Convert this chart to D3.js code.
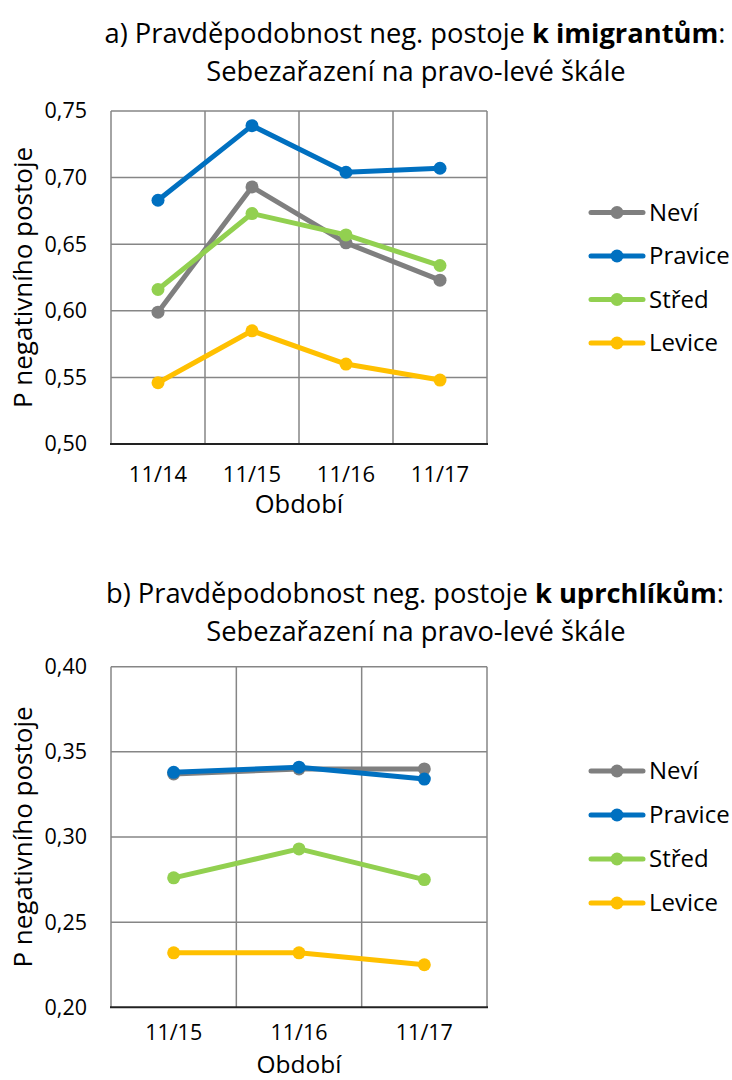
<!DOCTYPE html>
<html>
<head>
<meta charset="utf-8">
<script src="https://cdn.jsdelivr.net/npm/d3@7"></script>
<style>
  html, body { margin: 0; padding: 0; background: #fff; }
  svg { display: block; font-family: "Open Sans", sans-serif; }
</style>
</head>
<body>
<div id="chart"></div>
<script>
// legend / series
const seriesNames = ['Neví', 'Pravice', 'Střed', 'Levice'];
const seriesColors = ['#7f7f7f', '#0070c0', '#92d050', '#ffc000'];

// a) k imigrantům
const periodsA = ['11/14', '11/15', '11/16', '11/17'];
const neviA = [0.599, 0.693, 0.651, 0.623];
const pravA = [0.683, 0.739, 0.704, 0.707];
const stredA = [0.616, 0.673, 0.657, 0.634];
const levA = [0.546, 0.585, 0.560, 0.548];
const ticksA = [0.50, 0.55, 0.60, 0.65, 0.70, 0.75];

// b) k uprchlíkům
const periodsB = ['11/15', '11/16', '11/17'];
const neviB = [0.337, 0.340, 0.340];
const pravB = [0.338, 0.341, 0.334];
const stredB = [0.276, 0.293, 0.275];
const levB = [0.232, 0.232, 0.225];
const ticksB = [0.20, 0.25, 0.30, 0.35, 0.40];

const W = 732, H = 1080;
const svg = d3.select('#chart').append('svg').attr('width', W).attr('height', H);

const fmt = v => d3.format('.2f')(v).replace('.', ',');

function drawPanel(cfg) {
  const { top, plot, periods, series, ticks, titleLead, titleBold } = cfg;
  const g = svg.append('g').attr('transform', `translate(0,${top})`);

  // titulek
  const t1 = g.append('text')
    .attr('x', 415).attr('y', 43)
    .attr('text-anchor', 'middle')
    .attr('font-size', 27.3).attr('fill', '#000');
  t1.append('tspan').text(titleLead);
  t1.append('tspan').attr('font-weight', 'bold').text(titleBold);
  t1.append('tspan').text(':');
  g.append('text')
    .attr('x', 416).attr('y', 81)
    .attr('text-anchor', 'middle')
    .attr('font-size', 27.3).attr('fill', '#000')
    .text('Sebezařazení na pravo-levé škále');

  const x = d3.scaleBand().domain(periods).range([plot.left, plot.right]).padding(0);
  const y = d3.scaleLinear().domain(d3.extent(ticks)).range([plot.bottom, plot.top]);
  const cx = d => x(d) + x.bandwidth() / 2;

  // mřížka
  g.append('g').selectAll('line.h')
    .data(ticks.slice(1))
    .join('line')
    .attr('x1', plot.left).attr('x2', plot.right)
    .attr('y1', d => y(d)).attr('y2', d => y(d))
    .attr('stroke', '#868686').attr('stroke-width', 1.5);
  g.append('g').selectAll('line.v')
    .data(periods)
    .join('line')
    .attr('x1', d => x(d) + x.bandwidth()).attr('x2', d => x(d) + x.bandwidth())
    .attr('y1', plot.top).attr('y2', plot.bottom)
    .attr('stroke', '#868686').attr('stroke-width', 1.5);
  g.append('line')
    .attr('x1', plot.left).attr('x2', plot.left)
    .attr('y1', plot.top).attr('y2', plot.bottom)
    .attr('stroke', '#868686').attr('stroke-width', 1.5);
  g.append('line')
    .attr('x1', plot.left - 1).attr('x2', plot.right + 1)
    .attr('y1', plot.bottom).attr('y2', plot.bottom)
    .attr('stroke', '#222').attr('stroke-width', 2);

  // osy - popisky
  const yAxis = d3.axisLeft(y).tickValues(ticks).tickSize(0).tickPadding(24).tickFormat(fmt);
  const ya = g.append('g').attr('transform', `translate(${plot.left},0)`).call(yAxis);
  ya.select('.domain').remove();
  ya.selectAll('text').attr('font-size', 21.5).attr('fill', '#000').attr('font-family', '"Open Sans", sans-serif');

  const xAxis = d3.axisBottom(x).tickSize(0).tickPadding(cfg.xTickPad);
  const xa = g.append('g').attr('transform', `translate(0,${plot.bottom})`).call(xAxis);
  xa.select('.domain').remove();
  xa.selectAll('text').attr('font-size', cfg.xTickSize).attr('fill', '#000').attr('font-family', '"Open Sans", sans-serif');

  g.append('text')
    .attr('x', (plot.left + plot.right) / 2).attr('y', plot.bottom + cfg.xTitleGap)
    .attr('text-anchor', 'middle').attr('font-size', cfg.xTitleSize).text('Období');

  g.append('text')
    .attr('transform', `translate(32,${(plot.top + plot.bottom) / 2}) rotate(-90)`)
    .attr('text-anchor', 'middle').attr('font-size', 26).text('P negativního postoje');

  // řady
  const line = d3.line().x(d => cx(d.p)).y(d => y(d.v));
  series.forEach((vals, i) => {
    const pts = vals.map((v, j) => ({ p: periods[j], v }));
    g.append('path').datum(pts)
      .attr('d', line).attr('fill', 'none')
      .attr('stroke', seriesColors[i]).attr('stroke-width', 5)
      .attr('stroke-linejoin', 'round').attr('stroke-linecap', 'round');
    g.append('g').selectAll('circle').data(pts).join('circle')
      .attr('cx', d => cx(d.p)).attr('cy', d => y(d.v)).attr('r', 6.5)
      .attr('fill', seriesColors[i]);
  });

  // legenda
  const leg = g.append('g');
  seriesNames.forEach((name, i) => {
    const ly = cfg.legendTop + i * cfg.legendStep;
    leg.append('line').attr('x1', 591).attr('x2', 643).attr('y1', ly).attr('y2', ly)
      .attr('stroke', seriesColors[i]).attr('stroke-width', 5).attr('stroke-linecap', 'round');
    leg.append('circle').attr('cx', 617).attr('cy', ly).attr('r', 6.5).attr('fill', seriesColors[i]);
    leg.append('text').attr('x', 649).attr('y', ly).attr('dy', '0.35em')
      .attr('font-size', 24).text(name);
  });
}

drawPanel({
  top: 0,
  plot: { left: 111, right: 487, top: 111, bottom: 444 },
  periods: periodsA,
  series: [neviA, pravA, stredA, levA],
  ticks: ticksA,
  titleLead: 'a) Pravděpodobnost neg. postoje ',
  titleBold: 'k imigrantům',
  xTickPad: 22, xTickSize: 22,
  xTitleGap: 69, xTitleSize: 25.5,
  legendTop: 212.5, legendStep: 43.5
});

drawPanel({
  top: 560,
  plot: { left: 111, right: 487, top: 106.7, bottom: 447.3 },
  periods: periodsB,
  series: [neviB, pravB, stredB, levB],
  ticks: ticksB,
  titleLead: 'b) Pravděpodobnost neg. postoje ',
  titleBold: 'k uprchlíkům',
  xTickPad: 17, xTickSize: 21.5,
  xTitleGap: 65.5, xTitleSize: 24.5,
  legendTop: 211, legendStep: 44
});
</script>
</body>
</html>
